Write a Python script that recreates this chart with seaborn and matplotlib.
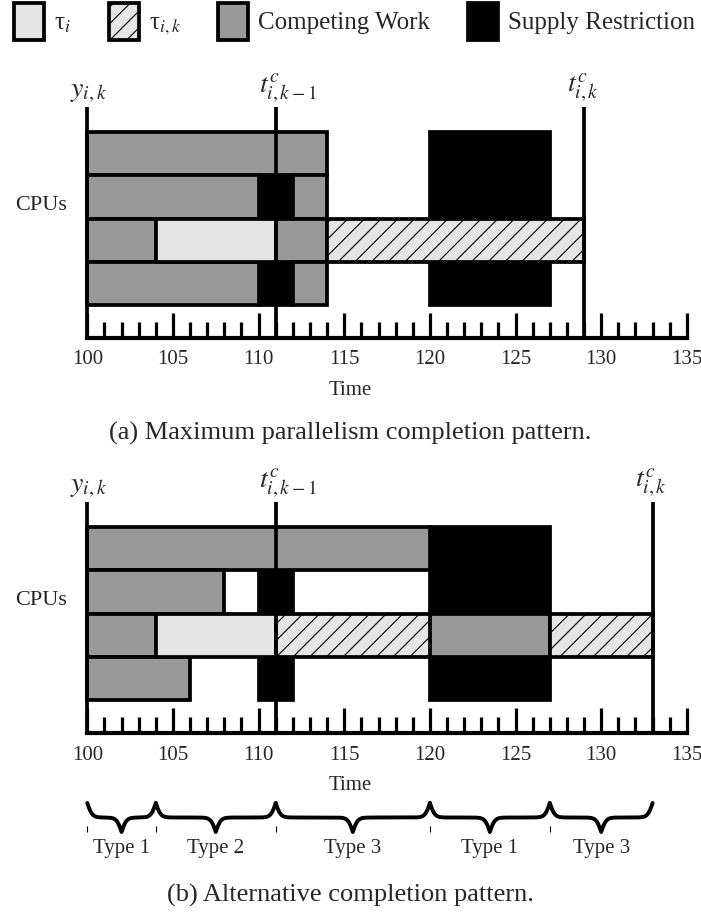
import numpy as np
import matplotlib.pyplot as plt
import seaborn as sns
from matplotlib.patches import Patch

# (a) maximum parallelism completion pattern: one entry per block
a_kind = ['supply', 'supply', 'supply', 'comp', 'comp', 'comp', 'comp', 'comp', 'comp', 'comp', 'tau_i', 'tau_ik']
a_cpu = [0, 1, 3, 0, 1, 1, 2, 2, 3, 3, 2, 2]
a_span = [4, 1, 1, 1, 1, 1, 1, 1, 1, 1, 1, 1]
a_start = [120, 110, 110, 100, 100, 112, 100, 111, 100, 112, 104, 114]
a_end = [127, 112, 112, 114, 110, 114, 104, 114, 110, 114, 111, 129]
a_marks = [100, 111, 129]

# (b) alternative completion pattern
b_kind = ['supply', 'supply', 'supply', 'comp', 'comp', 'comp', 'comp', 'comp', 'tau_i', 'tau_ik', 'tau_ik']
b_cpu = [0, 1, 3, 0, 1, 2, 2, 3, 2, 2, 2]
b_span = [4, 1, 1, 1, 1, 1, 1, 1, 1, 1, 1]
b_start = [120, 110, 110, 100, 100, 100, 120, 100, 104, 111, 127]
b_end = [127, 112, 112, 120, 108, 104, 127, 106, 111, 120, 133]
b_marks = [100, 111, 133]

mark_labels = [r'$y_{i,k}$', r'$t^{c}_{i,k-1}$', r'$t^{c}_{i,k}$']

type_start = [100, 104, 111, 120, 127]
type_end = [104, 111, 120, 127, 133]
type_label = ['Type 1', 'Type 2', 'Type 3', 'Type 1', 'Type 3']

styles = {
    'tau_i': dict(color='#e5e5e5', hatch=None),
    'tau_ik': dict(color='#e5e5e5', hatch='//'),
    'comp': dict(color='#999999', hatch=None),
    'supply': dict(color='black', hatch=None),
}

sns.set_theme(style='white')
plt.rcParams['font.family'] = ['Liberation Serif', 'DejaVu Serif']
plt.rcParams['mathtext.fontset'] = 'stix'
plt.rcParams['hatch.linewidth'] = 0.8

W, H = 701, 924
fig = plt.figure(figsize=(W / 100, H / 100), dpi=100)

ROW = 43.25          # px per CPU row
PX = 17.13           # px per time unit
X0 = 100 - 87.3 / PX
X1 = X0 + W / PX
LW = 2.7


def panel(top_px, kind, cpu, span, start, end, marks):
    base_px = top_px + 278
    ax = fig.add_axes([0, 1 - base_px / H, 1, 278 / H])
    ax.set_xlim(X0, X1)
    ybase = (278 - 72) / ROW
    ax.set_ylim(ybase, -72 / ROW)

    for k, c, s, x0, x1 in zip(kind, cpu, span, start, end):
        st = styles[k]
        ax.barh(c + s / 2, x1 - x0, left=x0, height=s, color=st['color'],
                hatch=st['hatch'], edgecolor='black', linewidth=LW, zorder=2)

    ax.vlines(marks, -25 / ROW, ybase, color='black', lw=LW, zorder=3)
    for x, lab in zip(marks, mark_labels):
        ax.text(x - 1.0, -0.62, lab, fontsize=20, ha='left', va='bottom')

    ax.text(98.8, 1.7, 'CPUs', fontsize=16, ha='right', va='center')

    for side in ['left', 'right', 'top']:
        ax.spines[side].set_visible(False)
    ax.spines['bottom'].set_linewidth(3)
    ax.spines['bottom'].set_color('black')
    ax.spines['bottom'].set_bounds(100, 135)
    ax.set_yticks([])
    ax.set_xticks(np.arange(100, 136, 5))
    ax.set_xticks(np.arange(100, 136, 1), minor=True)
    ax.tick_params(axis='x', which='major', direction='in', length=18, width=2.3,
                   color='black', pad=9, labelsize=15, bottom=True)
    ax.tick_params(axis='x', which='minor', direction='in', length=11.5, width=2.3,
                   color='black', bottom=True)
    ax.set_xlabel('Time', fontsize=15, labelpad=8)
    return ax


ax_a = panel(60, a_kind, a_cpu, a_span, a_start, a_end, a_marks)
ax_b = panel(455, b_kind, b_cpu, b_span, b_start, b_end, b_marks)

# braces under panel (b)
y_end, y_tip = (803 - 527) / ROW, (832 - 527) / ROW
for x0, x1, lab in zip(type_start, type_end, type_label):
    n = 301
    xs = np.linspace(x0, x1, n)
    xh = xs[:n // 2 + 1]
    half = 1 / (1 + np.exp(-7 * (xh - xh[0]))) + 1 / (1 + np.exp(-7 * (xh - xh[-1])))
    v = np.concatenate([half, half[-2::-1]])
    ax_b.plot(xs, y_end + (v - 0.5) * (y_tip - y_end), color='black', lw=2.8,
              solid_capstyle='round', clip_on=False)
    ax_b.vlines(x0, (826 - 527) / ROW, (832 - 527) / ROW, color='black', lw=0.8, clip_on=False)
    ax_b.text((x0 + x1) / 2, (848 - 527) / ROW, lab, fontsize=15, ha='center', va='center')

fig.text(0.5, 1 - 433 / H, '(a) Maximum parallelism completion pattern.', fontsize=19,
         ha='center', va='center')
fig.text(0.5, 1 - 895 / H, '(b) Alternative completion pattern.', fontsize=19,
         ha='center', va='center')

handles = [Patch(facecolor='#e5e5e5', edgecolor='black', lw=LW),
           Patch(facecolor='#e5e5e5', edgecolor='black', lw=LW, hatch='//'),
           Patch(facecolor='#999999', edgecolor='black', lw=LW),
           Patch(facecolor='black', edgecolor='black', lw=LW)]
fig.legend(handles, ['τ$_i$', 'τ$_{i,k}$', 'Competing Work', 'Supply Restriction'],
           loc='upper left', bbox_to_anchor=(0.02, 0.997), ncol=4, frameon=False,
           fontsize=18, handleheight=1.9, handlelength=1.2, handletextpad=0.4,
           columnspacing=1.5, borderpad=0, borderaxespad=0)

fig.savefig('out.png', dpi=100)
